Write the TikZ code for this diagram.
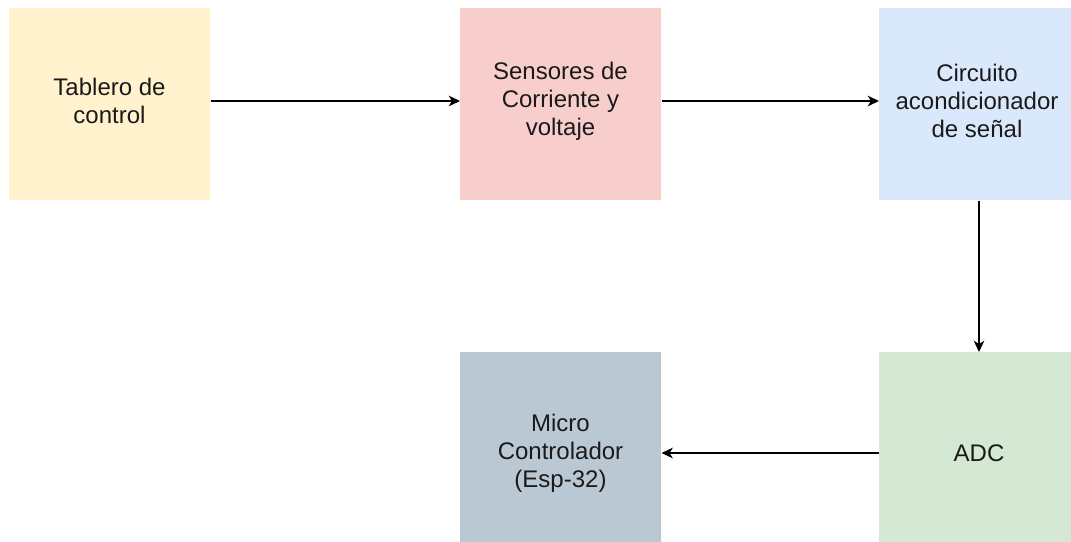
\documentclass[tikz,border=0pt]{standalone}
\usepackage{fontspec}
\setmainfont{Liberation Sans}
\usetikzlibrary{arrows.meta}
\definecolor{cyellow}{HTML}{FFF2CC}
\definecolor{cred}{HTML}{F8CECC}
\definecolor{cblue}{HTML}{DAE8FC}
\definecolor{cgreen}{HTML}{D5E8D4}
\definecolor{cgrey}{HTML}{BAC8D3}
\definecolor{ctext}{HTML}{1A1A1A}
\begin{document}
\begin{tikzpicture}[x=0.75pt,y=-0.75pt,
  blk/.style={draw=none,minimum width=150.75pt,minimum height=144pt,inner sep=0pt,anchor=north west},
  txt/.style={inner sep=0pt,align=center,text=ctext,font=\fontsize{18}{21}\selectfont},
  conn/.style={draw=black,line width=0.85pt,-{Stealth[length=8.5pt,width=8pt,inset=2.5pt]}}]
\useasboundingbox (0,0) rectangle (1071,542);
\node[blk,fill=cyellow] (tab) at (9,8) {};
\node[blk,fill=cred] (sen) at (460,8) {};
\node[blk,fill=cblue,minimum width=144pt] (cir) at (879,8) {};
\node[blk,fill=cgreen,minimum width=144pt,minimum height=142.5pt] (adc) at (879,352) {};
\node[blk,fill=cgrey,minimum height=142.5pt] (mic) at (460,352) {};
\node[txt] (tabt) at (109.5,101) {Tablero de\\control};
\node[txt] (sent) at (560.5,101) {Sensores de\\Corriente y\\voltaje};
\node[txt] (cirt) at (977,101) {Circuito\\acondicionador\\de señal};
\node[txt] (adct) at (979,453) {ADC};
\node[txt] (mict) at (560.5,453) {Micro\\Controlador\\(Esp-32)};
\draw[conn] (tab.east |- tabt) -- (sen.west |- tabt);
\draw[conn] (sen.east |- sent) -- (cir.west |- sent);
\draw[conn] (cir.south -| adct) -- (adc.north -| adct);
\draw[conn] (adc.west |- adct) -- (mic.east |- adct);
\end{tikzpicture}
\end{document}
